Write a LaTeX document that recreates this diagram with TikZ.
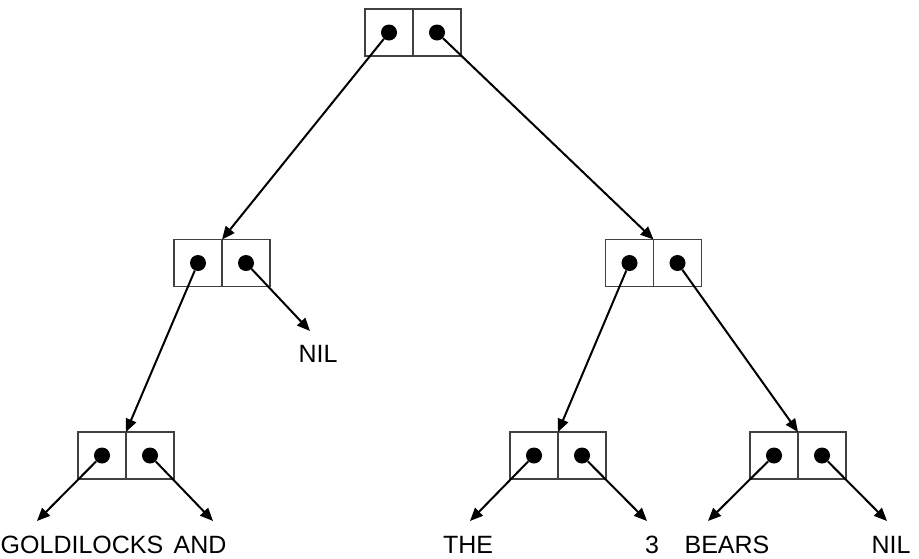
\documentclass[tikz,border=0pt]{standalone}
\usepackage{fontspec}
\setmainfont{Liberation Sans}
\usetikzlibrary{arrows.meta}
\begin{document}
\begin{tikzpicture}[x=1pt,y=-1pt,
  cell/.style={draw=black!75, line width=1.2pt, minimum width=48pt, minimum height=47pt, inner sep=0pt, outer sep=0pt},
  dot/.style={circle, fill=black, minimum size=16pt, inner sep=0pt},
  arr/.style={line width=2pt, -{Triangle[length=13pt,width=11pt]}},
  lbl/.style={font=\fontsize{25}{28}\selectfont, anchor=base, inner sep=0pt}]
\useasboundingbox (0,0) rectangle (919,558);
% cells
\node[cell] (aL) at (389,32.5) {};
\node[cell] (aR) at (437,32.5) {};
\node[cell] (bL) at (198,263) {};
\node[cell] (bR) at (246,263) {};
\node[cell] (cL) at (629.5,263) {};
\node[cell] (cR) at (677.5,263) {};
\node[cell] (dL) at (102,455.5) {};
\node[cell] (dR) at (150,455.5) {};
\node[cell] (eL) at (534,455.5) {};
\node[cell] (eR) at (582,455.5) {};
\node[cell] (fL) at (774,455.5) {};
\node[cell] (fR) at (822,455.5) {};
% dots
\foreach \n in {aL,aR,bL,bR,cL,cR,dL,dR,eL,eR,fL,fR}
  \node[dot] (\n d) at (\n) {};
% leaf end points
\coordinate (t1) at (37,521);
\coordinate (t2) at (213,521);
\coordinate (t3) at (470,521);
\coordinate (t4) at (647,521);
\coordinate (t5) at (708,521);
\coordinate (t6) at (887,521);
\coordinate (tn) at (310,331);
% labels
\node[lbl] (l1) at (82,553) {GOLDILOCKS};
\node[lbl] (l2) at (200,553) {AND};
\node[lbl] (l3) at (468,553) {THE};
\node[lbl] (l4) at (652,553) {3};
\node[lbl] (l5) at (727,553) {BEARS};
\node[lbl] (l6) at (891,553) {NIL};
\node[lbl] (ln) at (318,362) {NIL};
% connectors
\draw[arr] (aLd) -- (bL.north east);
\draw[arr] (aRd) -- (cL.north east);
\draw[arr] (bLd) -- (dL.north east);
\draw[arr] (bRd) -- (tn);
\draw[arr] (cLd) -- (eL.north east);
\draw[arr] (cRd) -- (fL.north east);
\draw[arr] (dLd) -- (t1);
\draw[arr] (dRd) -- (t2);
\draw[arr] (eLd) -- (t3);
\draw[arr] (eRd) -- (t4);
\draw[arr] (fLd) -- (t5);
\draw[arr] (fRd) -- (t6);
\end{tikzpicture}
\end{document}
